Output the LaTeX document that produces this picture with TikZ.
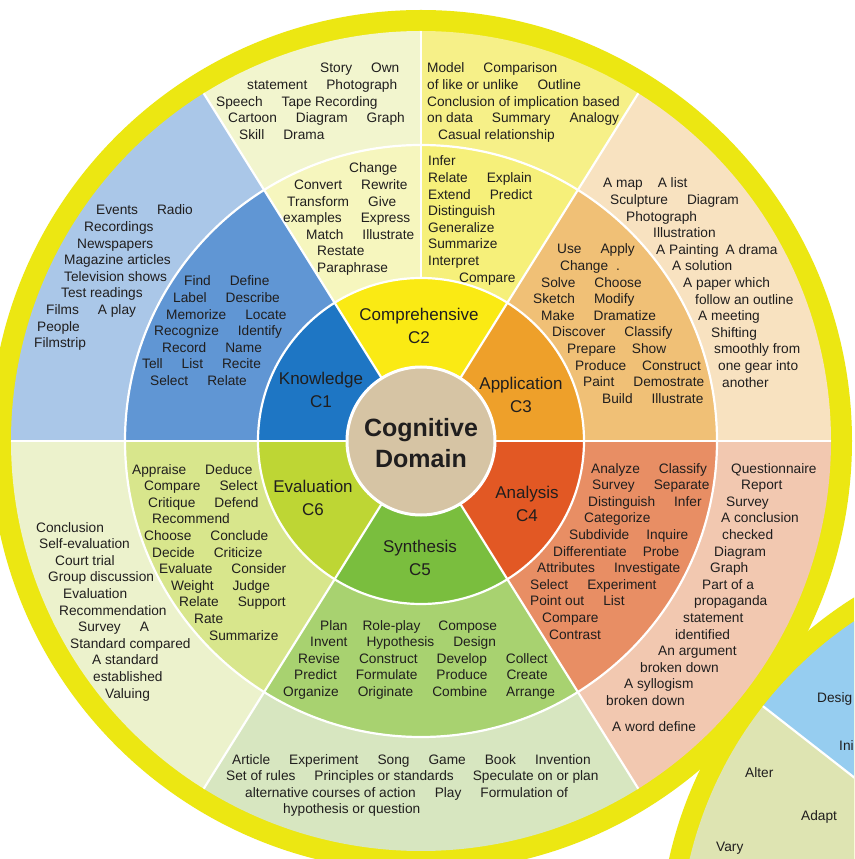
\documentclass[tikz,border=0pt]{standalone}
\usepackage{fontspec}
\setmainfont{Liberation Sans}
\definecolor{ink}{RGB}{32,30,30}
\definecolor{ringyellow}{RGB}{236,231,18}
\definecolor{coretan}{RGB}{214,196,164}
\definecolor{knowA}{RGB}{30,118,196}
\definecolor{knowB}{RGB}{96,150,212}
\definecolor{knowC}{RGB}{170,199,232}
\definecolor{compA}{RGB}{250,234,20}
\definecolor{compBl}{RGB}{246,246,190}
\definecolor{compBr}{RGB}{246,240,122}
\definecolor{compCl}{RGB}{242,245,206}
\definecolor{compCr}{RGB}{246,240,136}
\definecolor{appA}{RGB}{238,160,42}
\definecolor{appB}{RGB}{240,192,118}
\definecolor{appC}{RGB}{248,226,192}
\definecolor{anaA}{RGB}{226,88,36}
\definecolor{anaB}{RGB}{232,142,100}
\definecolor{anaC}{RGB}{242,200,176}
\definecolor{synA}{RGB}{122,190,62}
\definecolor{synB}{RGB}{168,210,112}
\definecolor{synC}{RGB}{215,230,192}
\definecolor{evaA}{RGB}{190,214,52}
\definecolor{evaB}{RGB}{216,230,140}
\definecolor{evaC}{RGB}{236,242,204}
\definecolor{nextblue}{RGB}{150,205,240}
\definecolor{nextgreen}{RGB}{222,228,178}
\newcommand\wgap{\hspace{19pt}}
\newcommand\lpad[1]{\hspace*{#1pt}}
\tikzset{
  txt/.style={font=\fontsize{13.7}{16.6}\selectfont,align=left,anchor=base west,inner sep=0pt,text=ink},
  cat/.style={font=\fontsize{17}{23}\selectfont,align=center,inner sep=0pt,text=ink},
  core/.style={font=\bfseries\fontsize{25}{31}\selectfont,align=center,inner sep=0pt,text=ink},
  divider/.style={draw=white,line width=2.2pt}
}
\begin{document}
\begin{tikzpicture}[x=1pt,y=1pt]
  \clip (-421,-418) rectangle (433,441);
  \fill[white] (-421,-418) rectangle (433,441);
  % the next wheel, lower right
  \begin{scope}[shift={(654,-509)}]
    \fill[ringyellow] (0,0) circle[radius=416];
    \fill[nextblue] (0,0) -- (142:396) arc[start angle=142, end angle=60, radius=396] -- cycle;
    \fill[nextgreen] (0,0) -- (142:396) arc[start angle=142, end angle=250, radius=396] -- cycle;
    \draw[divider] (0,0) -- (142:396);
  \end{scope}
  \node[txt] (design) at (396,-261) {Desig};
  \node[txt] (initiate) at (418,-309) {Ini};
  \node[txt] (alter) at (324,-336) {Alter};
  \node[txt] (adapt) at (380,-379) {Adapt};
  \node[txt] (vary) at (295,-410) {Vary};
  % the cognitive wheel
  \fill[ringyellow] (0,0) circle[radius=431];
  \foreach \s/\e/\cc/\cb/\ca in {122/180/knowC/knowB/knowA, 0/58/appC/appB/appA,
      -58/0/anaC/anaB/anaA, -122/-58/synC/synB/synA, 180/238/evaC/evaB/evaA}{
    \fill[\cc] (0,0) -- (\s:410) arc[start angle=\s, end angle=\e, radius=410] -- cycle;
    \fill[\cb] (0,0) -- (\s:296) arc[start angle=\s, end angle=\e, radius=296] -- cycle;
    \fill[\ca] (0,0) -- (\s:163) arc[start angle=\s, end angle=\e, radius=163] -- cycle;
  }
  \fill[compCr] (0,0) -- (58:410) arc[start angle=58, end angle=90, radius=410] -- cycle;
  \fill[compCl] (0,0) -- (90:410) arc[start angle=90, end angle=122, radius=410] -- cycle;
  \fill[compBr] (0,0) -- (58:296) arc[start angle=58, end angle=90, radius=296] -- cycle;
  \fill[compBl] (0,0) -- (90:296) arc[start angle=90, end angle=122, radius=296] -- cycle;
  \fill[compA] (0,0) -- (58:163) arc[start angle=58, end angle=122, radius=163] -- cycle;
  \draw[divider] (0,0) circle[radius=163] (0,0) circle[radius=296];
  \foreach \a in {0,58,122,180,238,302}
    \draw[divider] (\a:74) -- (\a:410);
  \draw[divider] (90:163) -- (90:410);
  \fill[coretan] (0,0) circle[radius=74];
  \draw[draw=white,line width=3pt] (0,0) circle[radius=74];
  % labels
  \node[core] (domain) at (0,-2) {Cognitive\\Domain};
  \node[cat] (c1) at (-100,51) {Knowledge\\C1};
  \node[cat] (c2) at (-2,115) {Comprehensive\\C2};
  \node[cat] (c3) at (100,46) {Application\\C3};
  \node[cat] (c4) at (106,-63) {Analysis\\C4};
  \node[cat] (c5) at (-1,-117) {Synthesis\\C5};
  \node[cat] (c6) at (-108,-57) {Evaluation\\C6};
  % verbs, middle ring (placed at the baseline of the last line)
  \node[txt] (c1verbs) at (-279,55.4) {\lpad{42}Find\wgap Define\\
    \lpad{31}Label\wgap Describe\\ \lpad{24}Memorize\wgap Locate\\
    \lpad{12}Recognize\wgap Identify\\ \lpad{20}Record\wgap Name\\
    Tell\wgap List\wgap Recite\\ \lpad{8}Select\wgap Relate};
  \node[txt] (c2verbsl) at (-138,168.4) {\lpad{66}Change\\ \lpad{11}Convert\wgap Rewrite\\
    \lpad{4}Transform\wgap Give\\ examples\wgap Express\\ \lpad{23}Match\wgap Illustrate\\
    \lpad{34}Restate\\ \lpad{34}Paraphrase};
  \node[txt] (c2verbsr) at (7,158.8) {Infer\\ Relate\wgap Explain\\ Extend\wgap Predict\\
    Distinguish\\ Generalize\\ Summarize\\ Interpret\\ \lpad{31}Compare};
  \node[txt] (c3verbs) at (112,37.6) {\lpad{24}Use\wgap Apply\\ \lpad{27}Change\hspace{8pt}.\\
    \lpad{8}Solve\wgap Choose\\ Sketch\wgap Modify\\ \lpad{8}Make\wgap Dramatize\\
    \lpad{19}Discover\wgap Classify\\ \lpad{34}Prepare\hspace{16pt}Show\\
    \lpad{42}Produce\hspace{16pt}Construct\\ \lpad{50}Paint\wgap Demostrate\\
    \lpad{69}Build\wgap Illustrate};
  \node[txt] (c4verbs) at (109,-198) {\lpad{61}Analyze\wgap Classify\\
    \lpad{62}Survey\wgap Separate\\ \lpad{58}Distinguish\wgap Infer\\ \lpad{54}Categorize\\
    \lpad{39}Subdivide\hspace{17pt}Inquire\\ \lpad{23}Differentiate\hspace{16pt}Probe\\
    \lpad{7}Attributes\wgap Investigate\\ Select\wgap Experiment\\ Point out\wgap List\\
    \lpad{12}Compare\\ \lpad{19}Contrast};
  \node[txt] (c5verbs) at (-138,-255.4) {\lpad{37}Plan\hspace{15pt}Role-play\hspace{18pt}Compose\\
    \lpad{27}Invent\wgap Hypothesis\wgap Design\\
    \lpad{15}Revise\wgap Construct\wgap Develop\wgap Collect\\
    \lpad{11}Predict\wgap Formulate\wgap Produce\wgap Create\\
    Organize\wgap Originate\wgap Combine\wgap Arrange};
  \node[txt] (c6verbs) at (-289,-199) {Appraise\wgap Deduce\\ \lpad{12}Compare\wgap Select\\
    \lpad{16}Critique\wgap Defend\\ \lpad{20}Recommend\\ \lpad{12}Choose\wgap Conclude\\
    \lpad{20}Decide\wgap Criticize\\ \lpad{27}Evaluate\wgap Consider\\
    \lpad{39}Weight\wgap Judge\\ \lpad{47}Relate\wgap Support\\ \lpad{62}Rate\\
    \lpad{77}Summarize};
  % products, outer ring
  \node[txt] (c1prod) at (-387,93.2) {\lpad{62}Events\wgap Radio\\ \lpad{50}Recordings\\
    \lpad{43}Newspapers\\ \lpad{30}Magazine articles\\ \lpad{30}Television shows\\
    \lpad{27}Test readings\\ \lpad{12}Films\wgap A play\\ \lpad{3}People\\ Filmstrip};
  \node[txt] (c2prodl) at (-205,301.6) {\lpad{104}Story\wgap Own\\
    \lpad{31}statement\wgap Photograph\\ Speech\wgap Tape Recording\\
    \lpad{12}Cartoon\wgap Diagram\wgap Graph\\ \lpad{23}Skill\wgap Drama};
  \node[txt] (c2prodr) at (6,301.6) {Model\wgap Comparison\\ of like or unlike\wgap Outline\\
    Conclusion of implication based\\ on data\wgap Summary\wgap Analogy\\
    \lpad{11}Casual relationship};
  \node[txt] (c3prod) at (182,53.8) {A map\hspace{15pt}A list\\ \lpad{7}Sculpture\wgap Diagram\\
    \lpad{23}Photograph\\ \lpad{50}Illustration\\ \lpad{53}A Painting\hspace{7pt}A drama\\
    \lpad{69}A solution\\ \lpad{80}A paper which\\ \lpad{92}follow an outline\\
    \lpad{95}A meeting\\ \lpad{108}Shifting\\ \lpad{111}smoothly from\\
    \lpad{115}one gear into\\ \lpad{119}another};
  \node[txt] (c4prod) at (185,-290) {\lpad{125}Questionnaire\\ \lpad{135}Report\\
    \lpad{120}Survey\\ \lpad{115}A conclusion\\ \lpad{116}checked\\ \lpad{108}Diagram\\
    \lpad{104}Graph\\ \lpad{96}Part of a\\ \lpad{88}propaganda\\ \lpad{77}statement\\
    \lpad{69}identified\\ \lpad{52}An argument\\ \lpad{34}broken down\\
    \lpad{18}A syllogism\\ broken down\\[9pt] \lpad{6}A word define};
  \node[txt] (c5prod) at (-195,-372.8) {\lpad{6}Article\wgap Experiment\wgap Song\wgap
    Game\wgap Book\wgap Invention\\
    Set of rules\wgap Principles or standards\wgap Speculate on or plan\\
    \lpad{19}alternative courses of action\wgap Play\wgap Formulation of\\
    \lpad{57}hypothesis or question};
  \node[txt] (c6prod) at (-385,-257) {Conclusion\\ \lpad{3}Self-evaluation\\
    \lpad{19}Court trial\\ \lpad{12}Group discussion\\ \lpad{27}Evaluation\\
    \lpad{23}Recommendation\\ \lpad{42}Survey\wgap A\\ \lpad{34}Standard compared\\
    \lpad{56}A standard\\ \lpad{57}established\\ \lpad{69}Valuing};
\end{tikzpicture}
\end{document}
